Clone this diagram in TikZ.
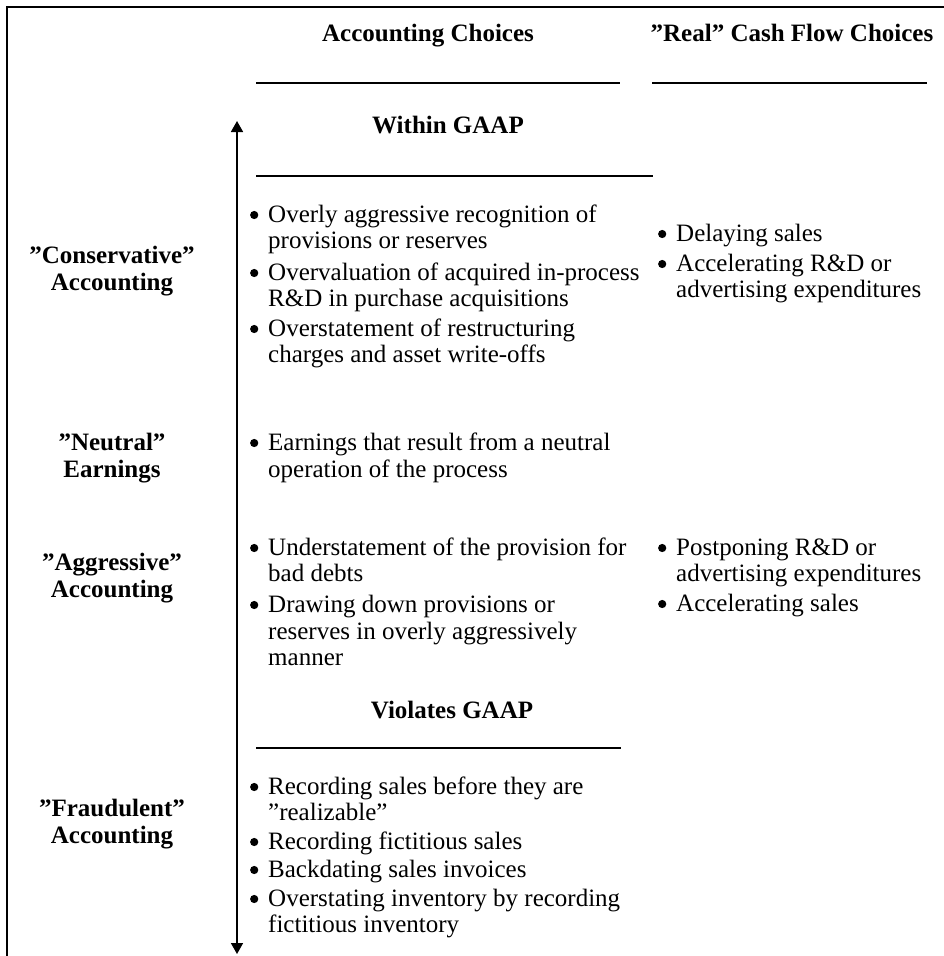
\documentclass[tikz,border=0pt]{standalone}
\usepackage{fontspec}
\setmainfont{Liberation Serif}
\usetikzlibrary{arrows.meta}
\tikzset{
  txt/.style={inner sep=0pt, anchor=base west, font=\fontsize{25}{30}\selectfont},
  hd/.style={inner sep=0pt, anchor=base, font=\fontsize{25}{30}\selectfont\bfseries},
  dot/.style={fill=black},
  rulel/.style={line width=1.3pt},
  framel/.style={line width=2.4pt},
  axis/.style={line width=1.7pt, {Triangle[length=11pt,width=12pt]}-{Triangle[length=11pt,width=12pt]}},
}
% bulleted first line: name, position, text
\newcommand\bitem[3]{%
  \node[txt] (#1) at (#2) {#3};
  \fill[dot] (#1.base west) ++(-13.8pt,7pt) circle[radius=4.1pt];}
\begin{document}
\begin{tikzpicture}[x=1pt,y=-1pt]
\useasboundingbox (0,0) rectangle (944,956);
\draw[framel] (7,956) -- (7,7) -- (944,7);
% headers
\node[hd] (hac) at (428,41) {Accounting Choices};
\node[hd] (hreal) at (792,41) {”Real” Cash Flow Choices};
\draw[rulel] (256,83) -- (620,83);
\draw[rulel] (652,83) -- (927,83);
\node[hd] (within) at (448,133) {Within GAAP};
\draw[rulel] (256,176) -- (653,176);
\node[hd] (viol) at (452,718) {Violates GAAP};
\draw[rulel] (256,748) -- (621,748);
% axis
\coordinate (atop) at (237,121);
\coordinate (abot) at (237,954);
\draw[axis] (abot) -- (atop);
% left labels
\node[hd] (cons1) at (112,263) {”Conservative”};
\node[hd] (cons2) at (112,290) {Accounting};
\node[hd] (neu1) at (112,450) {”Neutral”};
\node[hd] (neu2) at (112,477) {Earnings};
\node[hd] (agg1) at (112,570) {”Aggressive”};
\node[hd] (agg2) at (112,597) {Accounting};
\node[hd] (fr1) at (112,816) {”Fraudulent”};
\node[hd] (fr2) at (112,843) {Accounting};
% conservative accounting choices
\bitem{c1}{268,222}{Overly aggressive recognition of}
\node[txt] (c2) at (268,248) {provisions or reserves};
\bitem{c3}{268,280}{Overvaluation of acquired in-process}
\node[txt] (c4) at (268,306) {R\&D in purchase acquisitions};
\bitem{c5}{268,336}{Overstatement of restructuring}
\node[txt] (c6) at (268,362) {charges and asset write-offs};
% conservative real choices
\bitem{r1}{676,241}{Delaying sales}
\bitem{r2}{676,271}{Accelerating R\&D or}
\node[txt] (r3) at (676,297) {advertising expenditures};
% neutral
\bitem{n1}{268,450}{Earnings that result from a neutral}
\node[txt] (n2) at (268,477) {operation of the process};
% aggressive accounting choices
\bitem{a1}{268,555}{Understatement of the provision for}
\node[txt] (a2) at (268,581) {bad debts};
\bitem{a3}{268,612}{Drawing down provisions or}
\node[txt] (a4) at (268,639) {reserves in overly aggressively};
\node[txt] (a5) at (268,665) {manner};
% aggressive real choices
\bitem{ar1}{676,555}{Postponing R\&D or}
\node[txt] (ar2) at (676,581) {advertising expenditures};
\bitem{ar3}{676,611}{Accelerating sales}
% fraudulent
\bitem{f1}{268,794}{Recording sales before they are}
\node[txt] (f2) at (268,820) {”realizable”};
\bitem{f3}{268,849}{Recording fictitious sales}
\bitem{f4}{268,877}{Backdating sales invoices}
\bitem{f5}{268,906}{Overstating inventory by recording}
\node[txt] (f6) at (268,932) {fictitious inventory};
\end{tikzpicture}
\end{document}
